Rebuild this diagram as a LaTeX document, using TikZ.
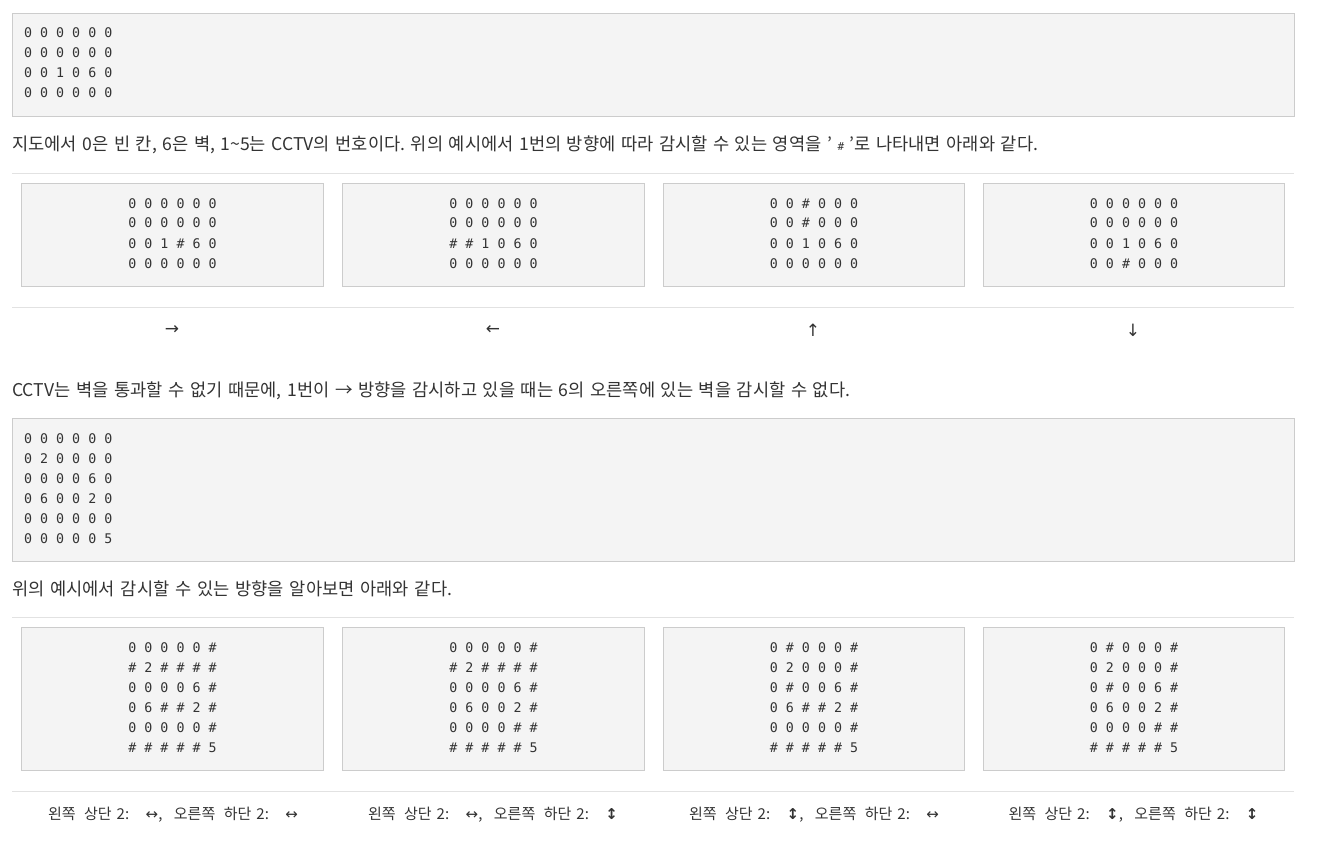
\documentclass[tikz,border=0pt]{standalone}
\usepackage{fontspec}
\setmainfont{Noto Sans CJK KR}
\newfontfamily\mono{DejaVu Sans Mono}
\newfontfamily\dvs{DejaVu Sans}
\definecolor{txt}{HTML}{333333}
\definecolor{boxfill}{HTML}{F4F4F4}
\definecolor{boxline}{HTML}{CCCCCC}
\definecolor{rulec}{HTML}{E2E2E2}
\frenchspacing
\newcommand\sps{\spaceskip 3pt plus 30pt\relax}
\newcommand\fillto[2]{\makebox[#1][s]{\sps #2}}
\tikzset{
  codebox/.style={draw=boxline, fill=boxfill, line width=1pt, inner sep=0pt},
  code/.style={font=\mono\fontsize{13.3}{20}\selectfont, text=txt, inner sep=0pt},
  para/.style={font=\fontsize{17.6}{20}\selectfont, text=txt, inner sep=0pt, anchor=base west},
  captext/.style={font=\fontsize{15}{20}\selectfont, text=txt, inner sep=0pt, anchor=base},
  arrowtext/.style={font=\dvs\fontsize{17}{20}\selectfont, text=txt, inner sep=0pt, anchor=base},
  hrule/.style={draw=rulec, line width=1pt},
}
\newcommand\codelines[5]{\foreach \ln [count=\i] in {#5} {\node[code,anchor=#4] (#1\i) at (#2,{#3+20*(\i-1)}) {\ln};}}
\newcommand\hh{{\dvs\fontsize{15}{15}\selectfont ↔}}
\newcommand\vv{{\dvs\bfseries\fontsize{15}{15}\selectfont ↕}}
% caption builder: left arrow, right arrow
\newcommand\capline[2]{왼쪽\hspace{8.5pt}상단\hspace{5pt}2:\hspace{16.5pt}#1,\hspace{11.5pt}오른쪽\hspace{8.5pt}하단\hspace{5pt}2:\hspace{16.5pt}#2}
\begin{document}
\begin{tikzpicture}[x=1pt,y=-1pt]
\useasboundingbox[fill=white] (0,0) rectangle (1325,853);
% top code box
\path[codebox] (12.5,13.5) rectangle (1294.5,116.5);
\codelines{ta}{24}{38}{base west}{0 0 0 0 0 0,0 0 0 0 0 0,0 0 1 0 6 0,0 0 0 0 0 0}
\node[para] (p1) at (12,150.5) {\fillto{1026pt}{지도에서 0은 빈 칸, 6은 벽, 1\textasciitilde5는 CCTV의 번호이다. 위의 예시에서 1번의 방향에 따라 감시할 수 있는 영역을 ' {\mono\fontsize{11}{11}\selectfont \#} '로 나타내면 아래와 같다.}};
\path[hrule] (12,173.5) -- (1294,173.5);
% four small boxes
\path[codebox] (21.5,183.5) rectangle (323.5,286.5);
\path[codebox] (342.5,183.5) rectangle (644.5,286.5);
\path[codebox] (663.5,183.5) rectangle (964.5,286.5);
\path[codebox] (983.5,183.5) rectangle (1284.5,286.5);
\codelines{ba}{172.5}{208}{base}{0 0 0 0 0 0,0 0 0 0 0 0,0 0 1 \# 6 0,0 0 0 0 0 0}
\codelines{bb}{493.5}{208}{base}{0 0 0 0 0 0,0 0 0 0 0 0,\# \# 1 0 6 0,0 0 0 0 0 0}
\codelines{bc}{814}{208}{base}{0 0 \# 0 0 0,0 0 \# 0 0 0,0 0 1 0 6 0,0 0 0 0 0 0}
\codelines{bd}{1134}{208}{base}{0 0 0 0 0 0,0 0 0 0 0 0,0 0 1 0 6 0,0 0 \# 0 0 0}
\path[hrule] (12,307.5) -- (1294,307.5);
\node[arrowtext] (a1) at (172,334) {→};
\node[arrowtext] (a2) at (493,334) {←};
\node[arrowtext] (a3) at (813,336) {↑};
\node[arrowtext] (a4) at (1133,336) {↓};
\node[para] (p2) at (12,396.5) {\fillto{838pt}{CCTV는 벽을 통과할 수 없기 때문에, 1번이 → 방향을 감시하고 있을 때는 6의 오른쪽에 있는 벽을 감시할 수 없다.}};
% second big box
\path[codebox] (12.5,418.5) rectangle (1294.5,561.5);
\codelines{tb}{24}{443}{base west}{0 0 0 0 0 0,0 2 0 0 0 0,0 0 0 0 6 0,0 6 0 0 2 0,0 0 0 0 0 0,0 0 0 0 0 5}
\node[para] (p3) at (12,595.5) {\fillto{440pt}{위의 예시에서 감시할 수 있는 방향을 알아보면 아래와 같다.}};
\path[hrule] (12,617.5) -- (1294,617.5);
\path[codebox] (21.5,627.5) rectangle (323.5,770.5);
\path[codebox] (342.5,627.5) rectangle (644.5,770.5);
\path[codebox] (663.5,627.5) rectangle (964.5,770.5);
\path[codebox] (983.5,627.5) rectangle (1284.5,770.5);
\codelines{ca}{172.5}{652}{base}{0 0 0 0 0 \#,\# 2 \# \# \# \#,0 0 0 0 6 \#,0 6 \# \# 2 \#,0 0 0 0 0 \#,\# \# \# \# \# 5}
\codelines{cb}{493.5}{652}{base}{0 0 0 0 0 \#,\# 2 \# \# \# \#,0 0 0 0 6 \#,0 6 0 0 2 \#,0 0 0 0 \# \#,\# \# \# \# \# 5}
\codelines{cc}{814}{652}{base}{0 \# 0 0 0 \#,0 2 0 0 0 \#,0 \# 0 0 6 \#,0 6 \# \# 2 \#,0 0 0 0 0 \#,\# \# \# \# \# 5}
\codelines{cd}{1134}{652}{base}{0 \# 0 0 0 \#,0 2 0 0 0 \#,0 \# 0 0 6 \#,0 6 0 0 2 \#,0 0 0 0 \# \#,\# \# \# \# \# 5}
\path[hrule] (12,791.5) -- (1294,791.5);
\node[captext] (c1) at (173,819) {\capline{\hh}{\hh}};
\node[captext] (c2) at (493,819) {\capline{\hh}{\vv}};
\node[captext] (c3) at (814,819) {\capline{\vv}{\hh}};
\node[captext] (c4) at (1133.5,819) {\capline{\vv}{\vv}};
\end{tikzpicture}
\end{document}
